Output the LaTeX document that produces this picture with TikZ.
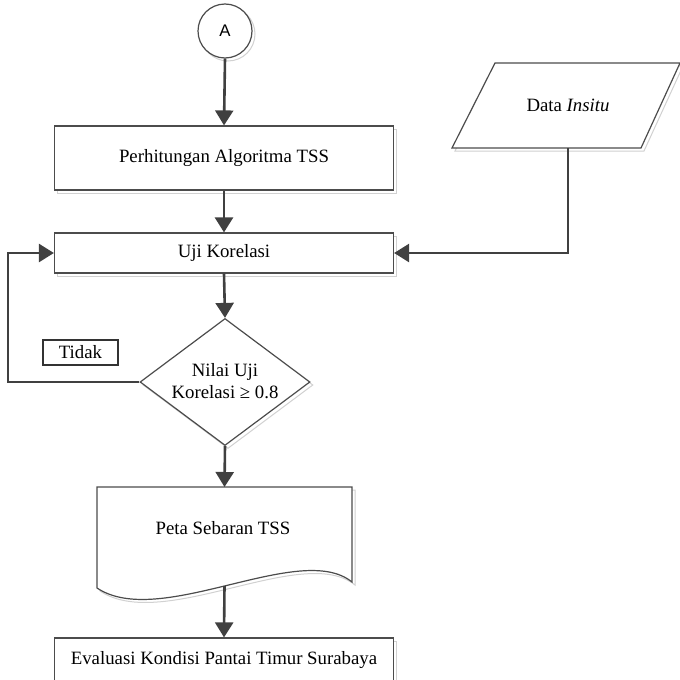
\documentclass[tikz,border=0pt]{standalone}
\usepackage{fontspec}
\setmainfont{Liberation Serif}
\newfontfamily\arialf{Liberation Sans}
\usetikzlibrary{arrows.meta,shapes.geometric,shadows}
\tikzset{
  x=0.5pt, y=-0.5pt,
  every node/.style={font=\fontsize{9.4}{11.2}\selectfont},
  sh/.style={general shadow={shadow xshift=1.5pt, shadow yshift=-1.5pt, draw=black!18, fill=white, line width=0.5pt}},
  boxst/.style={draw=black!70, line width=0.6pt, fill=white, rectangle, inner sep=0pt, sh},
  conn/.style={draw=black!75, line width=1.3pt, -{Triangle[length=7.5pt,width=9pt]}},
}
\begin{document}
\begin{tikzpicture}
\useasboundingbox (0,0) rectangle (680,680);
% start circle
\node[circle, draw=black!70, line width=0.6pt, fill=white, minimum size=27pt, inner sep=0pt, sh, font=\arialf\fontsize{8.4}{10}\selectfont] (A) at (225,31) {A};
% boxes
\node[boxst, minimum width=169.5pt, minimum height=32pt] (b1) at (224,158) {Perhitungan Algoritma TSS};
\node[boxst, minimum width=169.5pt, minimum height=20pt] (b2) at (224,253) {Uji Korelasi};
% diamond
\node[diamond, draw=black!70, line width=0.6pt, fill=white, minimum width=85pt, minimum height=63.5pt, inner sep=0pt, sh] (dia) at (225,382) {};
\node[align=center] (diat) at (225,381) {Nilai Uji\\Korelasi ≥ 0.8};
% Tidak label
\node[draw=black!80, line width=0.6pt, rectangle, minimum width=37.5pt, minimum height=12.5pt, inner sep=0pt] (tidak) at (80.5,352.5) {Tidak};
% document shape
\path[general shadow={shadow xshift=1.5pt, shadow yshift=-1.5pt, draw=black!18, fill=white, line width=0.5pt}, draw=black!70, line width=0.6pt, fill=white]
  (97,487) -- (352,487) -- (352,582) .. controls (300,540) and (160,630) .. (97,588) -- cycle;
\node (doct) at (223,528) {Peta Sebaran TSS};
\coordinate (doctop) at (224.5,487);
\coordinate (docbot) at (224.5,586);
% bottom box
\node[boxst, minimum width=169.5pt, minimum height=22pt] (b5) at (224,660) {Evaluasi Kondisi Pantai Timur Surabaya};
% parallelogram data insitu
\path[general shadow={shadow xshift=1.5pt, shadow yshift=-1.5pt, draw=black!18, fill=white, line width=0.5pt}, draw=black!70, line width=0.6pt, fill=white]
  (495,63) -- (680,63) -- (641,148) -- (452,148) -- cycle;
\node (data) at (568,105) {Data \textit{Insitu}};
\coordinate (databot) at (568,148);
\coordinate (loopc) at (8,382);
% connectors
\draw[conn] (A.south) -- (b1.north);
\draw[conn] (b1.south) -- (b2.north);
\draw[conn] (b2.south) -- (dia.north);
\draw[conn] (dia.south) -- (doctop);
\draw[conn] (docbot) -- (b5.north);
\draw[conn] (databot) |- (b2.east);
\draw[conn] (dia.west) -- (loopc) |- (b2.west);
\end{tikzpicture}
\end{document}
